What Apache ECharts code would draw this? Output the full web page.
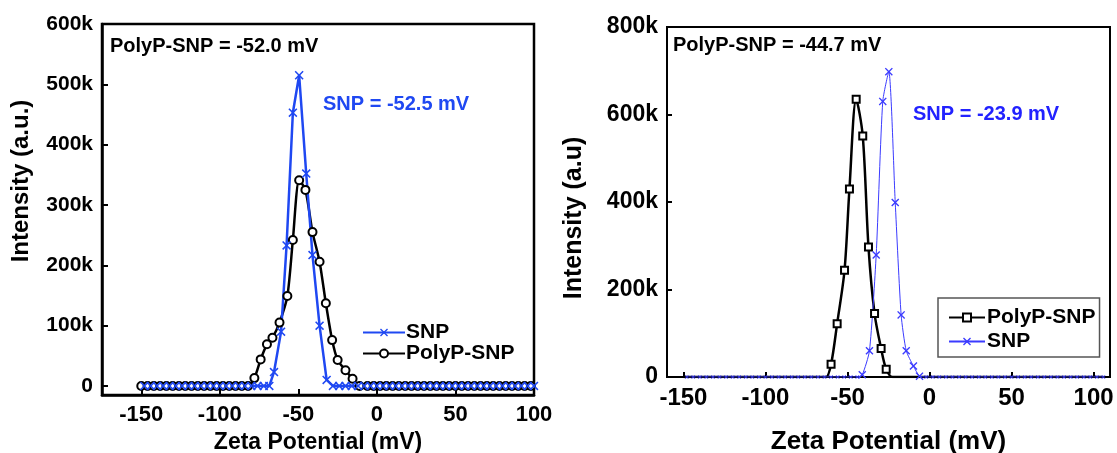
<!DOCTYPE html>
<html>
<head>
<meta charset="utf-8">
<script src="https://cdn.jsdelivr.net/npm/echarts@6/dist/echarts.min.js"></script>
<style>
  html, body { margin: 0; padding: 0; background: #fff; }
  #chartL { position: absolute; left: 0; top: 0; width: 558px; height: 453px; }
  #chartR { position: absolute; left: 558px; top: 0; width: 559px; height: 453px; }
</style>
</head>
<body>
<div id="chartL"></div>
<div id="chartR"></div>
<script>
// left panel, intensity in k
var leftSnpX = [-148,-144,-140,-136,-132,-128,-124,-120,-116,-112,-108,-104,-100,-96,-92,-88,-84,-80,-76,-72,-68.5,
  -65.5,-61,-57.5,-53.5,-49.5,-45,-41,-36.5,-32,
  -28,-24,-20,-16,-12,-8,-4,0,4,8,12,16,20,24,28,32,36,40,44,48,52,56,60,64,68,72,76,80,84,88,92,96,100];
var leftSnpY = [0,0,0,0,0,0,0,0,0,0,0,0,0,0,0,0,0,0,0,0,0,
  23,90,233,453,515,352,217,100,10,
  0,0,0,0,0,0,0,0,0,0,0,0,0,0,0,0,0,0,0,0,0,0,0,0,0,0,0,0,0,0,0,0,0];
var leftPolyX = [-150,-146,-142,-138,-134,-130,-126,-122,-118,-114,-110,-106,-102,-98,-94,-90,-86,-82,
  -78,-74,-70,-66.5,-62,-57,-53.5,-49.5,-45.5,-41,-36.5,-32.5,-28.5,-25,-20,-15.5,
  -11,-6,-2,2,6,10,14,18,22,26,30,34,38,42,46,50,54,58,62,66,70,74,78,82,86,90,94,98];
var leftPolyY = [0,0,0,0,0,0,0,0,0,0,0,0,0,0,0,0,0,0,
  13,44,69,80,105,149,242,341,325,255,206,137,76,43,26,12,
  0,0,0,0,0,0,0,0,0,0,0,0,0,0,0,0,0,0,0,0,0,0,0,0,0,0,0,0];

// right panel, intensity in k
var rightPolyX = [-150,-146,-142,-138,-134,-130,-126,-122,-118,-114,-110,-106,-102,-98,-94,-90,-86,-82,-78,-74,-70,-66,-63,
  -60,-56.3,-51.8,-48.8,-44.7,-40.7,-37.2,-33.5,-29.5,-26.4,
  -22.5,-18,-14,-10,-6,-2,2,6,10,14,18,22,26,30,34,38,42,46,50,54,58,62,66,70,74,78,82,86,90,94,98,102,106];
var rightPolyY = [0,0,0,0,0,0,0,0,0,0,0,0,0,0,0,0,0,0,0,0,0,0,0,
  29,122,244,430,635,551,297,145,65,18,
  0,0,0,0,0,0,0,0,0,0,0,0,0,0,0,0,0,0,0,0,0,0,0,0,0,0,0,0,0,0,0,0,0];
var rightSnpX = [-148,-144,-140,-136,-132,-128,-124,-120,-116,-112,-108,-104,-100,-96,-92,-88,-84,-80,-76,-72,-68,-64,-60,-56,-52,-48,-44,
  -41,-36.6,-32.5,-28.5,-24.8,-20.9,-17.3,-14.2,-9.8,-6.1,
  -2,2,6,10,14,18,22,26,30,34,38,42,46,50,54,58,62,66,70,74,78,82,86,90,94,98,102,106];
var rightSnpY = [0,0,0,0,0,0,0,0,0,0,0,0,0,0,0,0,0,0,0,0,0,0,0,0,0,0,0,
  5,60,279,630,698,399,142,60,25,2,
  0,0,0,0,0,0,0,0,0,0,0,0,0,0,0,0,0,0,0,0,0,0,0,0,0,0,0,0];

var xTicks = [-150,-100,-50,0,50,100];
var yTicksL = [0,100,200,300,400,500,600];

var crossPath = 'path://M0,1.2L1.2,0L5,3.8L8.8,0L10,1.2L6.2,5L10,8.8L8.8,10L5,6.2L1.2,10L0,8.8L3.8,5Z';
var font = 'Liberation Sans, Arial, sans-serif';

function zip(xs, ys) {
  var out = [];
  for (var i = 0; i < xs.length; i++) out.push([xs[i], ys[i]]);
  return out;
}
function kFmt(v) { return v === 0 ? '0' : v + 'k'; }

var blueL = '#1f48f2';
var blueR = '#3b3bff';

var chartL = echarts.init(document.getElementById('chartL'));
chartL.setOption({
  animation: false,
  grid: { left: 102, top: 24, width: 432, height: 371, show: true, borderColor: '#000', borderWidth: 2.5, outerBoundsMode: 'none' },
  legend: {
    orient: 'vertical', left: 362, top: 322, padding: 0, itemGap: 0,
    itemWidth: 42, itemHeight: 10,
    data: ['SNP', 'PolyP-SNP'],
    textStyle: { fontFamily: font, fontWeight: 'bold', fontSize: 21, color: '#000', padding: [0, 0, 0, -4] }
  },
  xAxis: {
    type: 'value', min: -175, max: 100,
    name: 'Zeta Potential (mV)', nameLocation: 'middle', nameGap: 33,
    nameTextStyle: { fontFamily: font, fontWeight: 'bold', fontSize: 23, color: '#000' },
    axisLine: { onZero: false, lineStyle: { color: '#000', width: 2.5 } },
    axisTick: { inside: true, length: 6, customValues: xTicks, lineStyle: { color: '#000', width: 2 } },
    axisLabel: { customValues: xTicks, margin: 9, fontFamily: font, fontWeight: 'bold', fontSize: 22, color: '#000' },
    splitLine: { show: false }
  },
  yAxis: {
    type: 'value', min: -15, max: 600,
    axisLine: { onZero: false, lineStyle: { color: '#000', width: 2.5 } },
    axisTick: { inside: true, length: 6, customValues: yTicksL, lineStyle: { color: '#000', width: 2 } },
    axisLabel: { customValues: yTicksL, margin: 9, formatter: kFmt, fontFamily: font, fontWeight: 'bold', fontSize: 21, color: '#000' },
    splitLine: { show: false }
  },
  graphic: [
    { type: 'text', x: 21, y: 181, rotation: Math.PI / 2,
      style: { text: 'Intensity (a.u.)', fontFamily: font, fontWeight: 'bold', fontSize: 24, fill: '#000', align: 'center', verticalAlign: 'middle' } },
    { type: 'text', x: 110, y: 46,
      style: { text: 'PolyP-SNP = -52.0 mV', fontFamily: font, fontWeight: 'bold', fontSize: 20, fill: '#000', align: 'left', verticalAlign: 'middle' } },
    { type: 'text', x: 323, y: 104,
      style: { text: 'SNP = -52.5 mV', fontFamily: font, fontWeight: 'bold', fontSize: 20, fill: blueL, align: 'left', verticalAlign: 'middle' } }
  ],
  series: [
    {
      name: 'PolyP-SNP', type: 'line', smooth: 0.25, data: zip(leftPolyX, leftPolyY),
      symbol: 'emptyCircle', symbolSize: 8,
      lineStyle: { color: '#000', width: 2.5 },
      itemStyle: { color: '#000', borderColor: '#333', borderWidth: 1 }
    },
    {
      name: 'SNP', type: 'line', data: zip(leftSnpX, leftSnpY),
      symbol: crossPath, symbolSize: 9,
      lineStyle: { color: blueL, width: 2.5 },
      itemStyle: { color: blueL }
    }
  ]
});

var chartR = echarts.init(document.getElementById('chartR'));
chartR.setOption({
  animation: false,
  grid: { left: 109, top: 27, width: 443, height: 350, show: true, borderColor: '#000', borderWidth: 2, outerBoundsMode: 'none' },
  legend: {
    orient: 'vertical', left: 380, top: 298, padding: [9, 4, 5, 10], itemGap: 3,
    itemWidth: 36, itemHeight: 10,
    borderColor: '#555', borderWidth: 1.5,
    data: ['PolyP-SNP', 'SNP'],
    textStyle: { fontFamily: font, fontWeight: 'bold', fontSize: 21, color: '#000', padding: [0, 0, 0, -3] }
  },
  xAxis: {
    type: 'value', min: -160, max: 110,
    name: 'Zeta Potential (mV)', nameLocation: 'middle', nameGap: 52,
    nameTextStyle: { fontFamily: font, fontWeight: 'bold', fontSize: 26, color: '#000' },
    axisLine: { onZero: false, lineStyle: { color: '#000', width: 2 } },
    axisTick: { inside: true, length: 5, customValues: xTicks, lineStyle: { color: '#000', width: 2 } },
    axisLabel: { customValues: xTicks, margin: 9, fontFamily: font, fontWeight: 'bold', fontSize: 24, color: '#000' },
    splitLine: { show: false }
  },
  yAxis: {
    type: 'value', min: 0, max: 800, interval: 200,
    axisLine: { onZero: false, lineStyle: { color: '#000', width: 2 } },
    axisTick: { inside: true, length: 5, lineStyle: { color: '#000', width: 2 } },
    axisLabel: { margin: 9, formatter: kFmt, fontFamily: font, fontWeight: 'bold', fontSize: 23, color: '#000' },
    splitLine: { show: false }
  },
  graphic: [
    { type: 'text', x: 16, y: 218, rotation: Math.PI / 2,
      style: { text: 'Intensity (a.u)', fontFamily: font, fontWeight: 'bold', fontSize: 25, fill: '#000', align: 'center', verticalAlign: 'middle' } },
    { type: 'text', x: 115, y: 45,
      style: { text: 'PolyP-SNP = -44.7 mV', fontFamily: font, fontWeight: 'bold', fontSize: 20, fill: '#000', align: 'left', verticalAlign: 'middle' } },
    { type: 'text', x: 355, y: 114,
      style: { text: 'SNP = -23.9 mV', fontFamily: font, fontWeight: 'bold', fontSize: 20, fill: '#2222ff', align: 'left', verticalAlign: 'middle' } }
  ],
  series: [
    {
      name: 'PolyP-SNP', type: 'line', smooth: 0.3, data: zip(rightPolyX, rightPolyY),
      symbol: 'emptyRect',
      symbolSize: function (v) { return v[1] > 0 ? 7 : 0; },
      lineStyle: { color: '#000', width: 2.5 },
      itemStyle: { color: '#000', borderColor: '#444', borderWidth: 1 }
    },
    {
      name: 'SNP', type: 'line', smooth: 0.2, data: zip(rightSnpX, rightSnpY),
      symbol: crossPath,
      symbolSize: function (v) { return v[1] > 0 ? 8 : 4; },
      lineStyle: { color: blueR, width: 1 },
      itemStyle: { color: blueR }
    }
  ]
});
</script>
</body>
</html>
